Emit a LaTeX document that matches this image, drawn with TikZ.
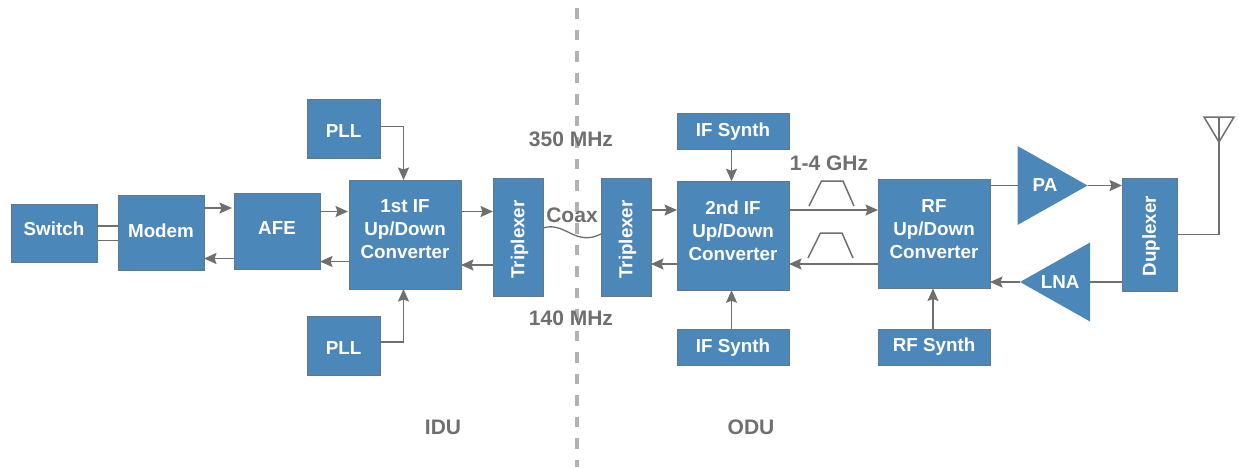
\documentclass[tikz,border=0pt]{standalone}
\usepackage{fontspec}
\setmainfont{Liberation Sans}
\usetikzlibrary{arrows.meta, positioning, calc, shapes.geometric}
\definecolor{blockcol}{HTML}{4C87BA}
\definecolor{linecol}{HTML}{6F6F70}
\definecolor{dashcol}{HTML}{B2B2B3}

\begin{document}
\begin{tikzpicture}[
  x=1pt, y=-1pt,
  block/.style={draw=linecol!70!blockcol, fill=blockcol, line width=0.9pt, inner sep=0pt, outer sep=0pt,
    font=\fontsize{18.8}{23}\selectfont\bfseries, text=white, align=center},
  tall/.style={block, minimum width=50pt, minimum height=118pt},
  conv/.style={block, minimum width=112pt, minimum height=109pt, text depth=10pt},
  synth/.style={block, minimum width=112pt, minimum height=36pt},
  pllbox/.style={block, minimum width=73pt, minimum height=59pt, text height=17pt},
  amp/.style={block, draw=none, isosceles triangle, isosceles triangle stretches,
    minimum width=79pt, minimum height=70pt},
  sidetxt/.style={font=\fontsize{18.8}{23}\selectfont\bfseries, text=white, rotate=90, xshift=-2.5pt, yshift=-1.5pt},
  conn/.style={-{Stealth[length=12.5pt, width=11pt, inset=2pt]}, linecol, line width=1.5pt},
  wire/.style={linecol, line width=1.5pt},
  annot/.style={font=\fontsize{21}{25}\selectfont\bfseries, text=linecol},
]
\useasboundingbox (0,0) rectangle (1239,467);

% Divider between the two units
\coordinate (divtop) at (577,8);
\coordinate (divbot) at (577,467);
\draw[dashcol, line width=4pt, dash pattern=on 10.5pt off 11pt] (divtop) -- (divbot);

% IDU chain, left to right
\node[block, minimum width=86pt, minimum height=58pt, text depth=8pt] (switch) at (54,233) {Switch};
\node[block, minimum width=86pt, minimum height=75pt, text depth=5pt, right=21pt of switch] (modem) {Modem};
\node[block, minimum width=86pt, minimum height=76pt, text depth=7pt, right=30pt of modem, yshift=1.5pt] (afe) {AFE};
\node[conv, right=29pt of afe, yshift=-3pt] (firstif) {1st IF\\Up/Down\\Converter};
\node[tall, right=32pt of firstif, yshift=-2.5pt] (tripa) {};
\node[sidetxt] (tripatxt) at (tripa) {Triplexer};

% PLLs above and below the first converter
\node[pllbox] (pllup) at (343.5,128.5) {PLL};
\node[pllbox] (plldown) at (343.5,345.5) {PLL};

% ODU chain
\node[tall, right=58pt of tripa] (tripb) {};
\node[sidetxt] (tripbtxt) at (tripb) {Triplexer};
\node[conv, right=26pt of tripb, yshift=1.25pt] (secondif) {2nd IF\\Up/Down\\Converter};
\node[conv, right=89pt of secondif, yshift=1.75pt] (rfconv) {RF\\Up/Down\\Converter};
\node[synth, above=32pt of secondif] (synthup) {IF Synth};
\node[synth, below=39pt of secondif] (synthdown) {IF Synth};
\node[synth, below=40.5pt of rfconv] (rfsynth) {RF Synth};

% Amplifiers and duplexer
\node[amp, right=27.5pt of rfconv, yshift=48.5pt, anchor=lower side] (pa) {\hspace{6pt}PA};
\node[amp, shape border rotate=180, anchor=lower side] (lna) at (1090,282) {LNA\hspace{6pt}};
\node[block, minimum width=55pt, minimum height=113pt] (duplexer) at (1149.5,234.5) {};
\node[sidetxt, xshift=1pt] (duplexertxt) at (duplexer) {Duplexer};

% Antenna on the duplexer
\coordinate (antfoot) at (1219,142);
\coordinate (antleft) at (1204,117);
\coordinate (antright) at (1234,117);
\coordinate (anttop) at (1219,117);
\draw[wire] (antleft) -- (antright) -- (antfoot) -- cycle;
\draw[wire] (anttop) -- (antfoot);
\draw[wire] (duplexer.east) -- ++(42,0) -- (antfoot);

% Switch <-> modem, two plain lines
\draw[wire] ($(switch.east)+(0,-7)$) -- ($(modem.west)+(0,-7)$);
\draw[wire] ($(switch.east)+(0,7.5)$) -- ($(modem.west)+(0,7.5)$);

% Up path
\draw[conn] ($(modem.east)+(0,-25)$) -- ($(afe.west)+(-2,-23.5)$);
\draw[conn] ($(afe.east)+(0,-20)$) -- ($(firstif.west)+(-1,-23)$);
\draw[conn] ($(firstif.east)+(0,-23)$) -- ($(tripa.west)+(0,-25.5)$);
\draw[conn] ($(tripb.east)+(0,-27)$) -- ($(secondif.west)+(0,-25.75)$);
\draw[conn] ($(secondif.east)+(0,-25.75)$) -- ($(rfconv.west)+(0,-24)$);
\draw[wire] (rfconv.east |- pa.lower side) -- (pa.lower side);
\draw[conn] (pa.apex) -- (duplexer.west |- pa.apex);

% Down path
\draw[wire] (duplexer.west |- lna.lower side) -- (lna.lower side);
\draw[conn] (lna.apex) -- (rfconv.east |- lna.apex);
\draw[conn] ($(rfconv.west)+(0,30)$) -- ($(secondif.east)+(0,28.25)$);
\draw[conn] ($(secondif.west)+(0,28.25)$) -- ($(tripb.east)+(0,27)$);
\draw[conn] ($(tripa.west)+(0,28)$) -- ($(firstif.east)+(0,30.5)$);
\draw[conn] ($(firstif.west)+(0,27)$) -- ($(afe.east)+(0,30)$);
\draw[conn] ($(afe.west)+(0,27)$) -- ($(modem.east)+(0,25.5)$);

% Synthesizers and PLLs into the converters
\draw[conn] ($(pllup.east)+(0,-2)$) -| ($(firstif.north)+(-1.5,0)$);
\draw[conn] ($(plldown.east)+(0,-3.5)$) -| ($(firstif.south)+(-1.5,0)$);
\draw[conn] ($(synthup.south)+(-1.5,0)$) -- ($(secondif.north)+(-1.5,0)$);
\draw[conn] ($(synthdown.north)+(-1.5,0)$) -- ($(secondif.south)+(-1.5,0)$);
\draw[conn] ($(rfsynth.north)+(-1,0)$) -- ($(rfconv.south)+(-1,0)$);

% Coax between the triplexers
\draw[wire, line width=1.3pt] ($(tripa.east)+(0,-9)$) .. controls +(10,-3) and +(-10,-5) .. ($(tripa.east)+(27,-4)$)
  .. controls +(10,5) and +(-12,6) .. ($(tripb.west)+(0,-3)$);

% Filter marks over the IF link
\coordinate (filtup) at (809,206);
\coordinate (filtdown) at (808,258);
\foreach \f in {filtup, filtdown}
  \draw[wire] (\f) -- ++(12.5,-25) -- ++(21.5,0) -- ++(11,25);

% Labels
\node[annot] (ghz) at (829,163) {1-4 GHz};
\node[annot] (coax) at (572,215) {Coax};
\node[annot] (mhzup) at (571,139) {350 MHz};
\node[annot] (mhzdown) at (571,318) {140 MHz};
\node[annot] (idu) at (443,427) {IDU};
\node[annot] (odu) at (751,427) {ODU};

\end{tikzpicture}
\end{document}
